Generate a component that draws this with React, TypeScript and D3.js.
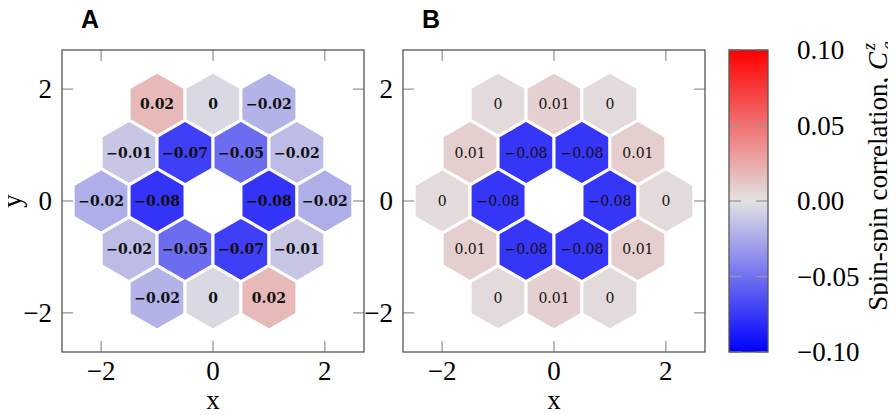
import React from "react";
import * as d3 from "d3";

// lattice sites (x in units of lattice spacing, row index k -> y = k * sqrt(3)/2)
const siteRow = [2, 2, 2, 1, 1, 1, 1, 0, 0, 0, 0, -1, -1, -1, -1, -2, -2, -2];
const siteX = [-1, 0, 1, -1.5, -0.5, 0.5, 1.5, -2, -1, 1, 2, -1.5, -0.5, 0.5, 1.5, -1, 0, 1];

const valuesA = [
  0.018, -0.004, -0.021,
  -0.012, -0.072, -0.052, -0.017,
  -0.023, -0.077, -0.077, -0.023,
  -0.017, -0.052, -0.072, -0.012,
  -0.021, -0.004, 0.018,
];
const valuesB = [
  0.003, 0.008, 0.003,
  0.009, -0.076, -0.076, 0.009,
  0.003, -0.076, -0.076, 0.003,
  0.009, -0.076, -0.076, 0.009,
  0.003, 0.008, 0.003,
];

const axisTicks = [-2, 0, 2];
const cbarTicks = [-0.1, -0.05, 0, 0.05, 0.1];
const panels = [
  { title: "A", values: valuesA, bold: true },
  { title: "B", values: valuesB, bold: false },
];

const SIZE = 302;
const TOP = 50;
const LEFTS = [62, 403];
const serif = "'Liberation Serif', 'Times New Roman', serif";
const frameColor = "#555";
const tickColor = "#999";

const color = d3
  .scaleLinear<string>()
  .domain([-0.1, 0, 0.1])
  .range(["#0000ff", "#e2e2e2", "#ff0000"])
  .clamp(true);

const minus = (s: string) => s.replace("-", "\u2212");
const cellLabel = (v: number) => {
  const r = Math.round(v * 100) / 100;
  if (r === 0) return "0";
  return minus(r.toFixed(2));
};

const Panel = ({ left, title, values, bold }: any) => {
  const x = d3.scaleLinear().domain([-2.7, 2.7]).range([0, SIZE]);
  const y = d3.scaleLinear().domain([-2.7, 2.7]).range([SIZE, 0]);
  const rad = 1 / Math.sqrt(3);
  const hexPath = (cx: number, cy: number) => {
    const pts = d3.range(6).map((i) => {
      const a = (Math.PI / 180) * (30 + 60 * i);
      return [x(cx + rad * Math.cos(a)), y(cy + rad * Math.sin(a))] as [number, number];
    });
    return "M" + pts.map((p) => p.join(",")).join("L") + "Z";
  };
  const tl = 11;
  return (
    <g transform={`translate(${left},${TOP})`}>
      <text x={19} y={-22} fontFamily="'Liberation Sans', Arial, sans-serif" fontWeight="bold" fontSize={25}>
        {title}
      </text>
      {values.map((v: number, i: number) => {
        const cx = siteX[i];
        const cy = (siteRow[i] * Math.sqrt(3)) / 2;
        return (
          <g key={i}>
            <path d={hexPath(cx, cy)} fill={color(v)} stroke="#fff" strokeWidth={3} strokeLinejoin="round" />
            <text
              x={x(cx)}
              y={y(cy)}
              dy="0.36em"
              textAnchor="middle"
              fontFamily="'DejaVu Serif', serif"
              fontWeight={bold ? "bold" : "normal"}
              fontSize={14}
              fill="#111"
            >
              {cellLabel(v)}
            </text>
          </g>
        );
      })}
      {axisTicks.map((t) => (
        <g key={t} stroke={tickColor} strokeWidth={1.3}>
          <line x1={x(t)} x2={x(t)} y1={0} y2={tl} />
          <line x1={x(t)} x2={x(t)} y1={SIZE} y2={SIZE - tl} />
          <line x1={0} x2={tl} y1={y(t)} y2={y(t)} />
          <line x1={SIZE} x2={SIZE - tl} y1={y(t)} y2={y(t)} />
        </g>
      ))}
      <rect x={0} y={0} width={SIZE} height={SIZE} fill="none" stroke={frameColor} strokeWidth={1.3} />
      {axisTicks.map((t) => (
        <text key={"x" + t} x={x(t)} y={SIZE + 28} textAnchor="middle" fontFamily={serif} fontSize={27}>
          {minus(String(t))}
        </text>
      ))}
      {axisTicks.map((t) => (
        <text key={"y" + t} x={-10} y={y(t)} dy="0.34em" textAnchor="end" fontFamily={serif} fontSize={27}>
          {minus(String(t))}
        </text>
      ))}
      <text x={x(0)} y={SIZE + 57} textAnchor="middle" fontFamily={serif} fontSize={27}>
        x
      </text>
      {left === LEFTS[0] && (
        <text
          transform={`translate(-41,${y(0)}) rotate(-90)`}
          textAnchor="middle"
          fontFamily={serif}
          fontSize={27}
        >
          y
        </text>
      )}
    </g>
  );
};

const Colorbar = () => {
  const left = 729;
  const w = 39;
  const cy = d3.scaleLinear().domain([-0.1, 0.1]).range([SIZE, 0]);
  const stops = d3.range(0, 1.0001, 0.1);
  return (
    <g transform={`translate(${left},${TOP})`}>
      <defs>
        <linearGradient id="cbar" x1="0" y1="1" x2="0" y2="0">
          {stops.map((s) => (
            <stop key={s} offset={s} stopColor={color(-0.1 + 0.2 * s)} />
          ))}
        </linearGradient>
      </defs>
      <rect x={0} y={0} width={w} height={SIZE} fill="url(#cbar)" />
      {cbarTicks.map((t) => (
        <g key={t} stroke={tickColor} strokeWidth={1.3}>
          <line x1={0} x2={12} y1={cy(t)} y2={cy(t)} />
          <line x1={w} x2={w - 12} y1={cy(t)} y2={cy(t)} />
        </g>
      ))}
      <rect x={0} y={0} width={w} height={SIZE} fill="none" stroke={frameColor} strokeWidth={1.3} />
      {cbarTicks.map((t) => (
        <text key={"l" + t} x={w + 29} y={cy(t)} dy="0.34em" fontFamily={serif} fontSize={27}>
          {minus(t.toFixed(2))}
        </text>
      ))}
      <g transform={`translate(${w + 119},0) rotate(-90)`} fontFamily={serif} fontSize={27}>
        <text x={-2} y={0} textAnchor="end">
          Spin-spin correlation, <tspan fontStyle="italic">C</tspan>
        </text>
        <text x={0} y={-12} fontStyle="italic" fontSize={18}>
          z
        </text>
        <text x={0} y={7} fontStyle="italic" fontSize={18}>
          a
        </text>
      </g>
    </g>
  );
};

export default function App() {
  return (
    <svg width={888} height={407} style={{ display: "block", overflow: "visible" }}>
      <g transform="translate(-8,-8)">
        {panels.map((p, i) => (
          <Panel key={p.title} left={LEFTS[i]} title={p.title} values={p.values} bold={p.bold} />
        ))}
        <Colorbar />
      </g>
    </svg>
  );
}
